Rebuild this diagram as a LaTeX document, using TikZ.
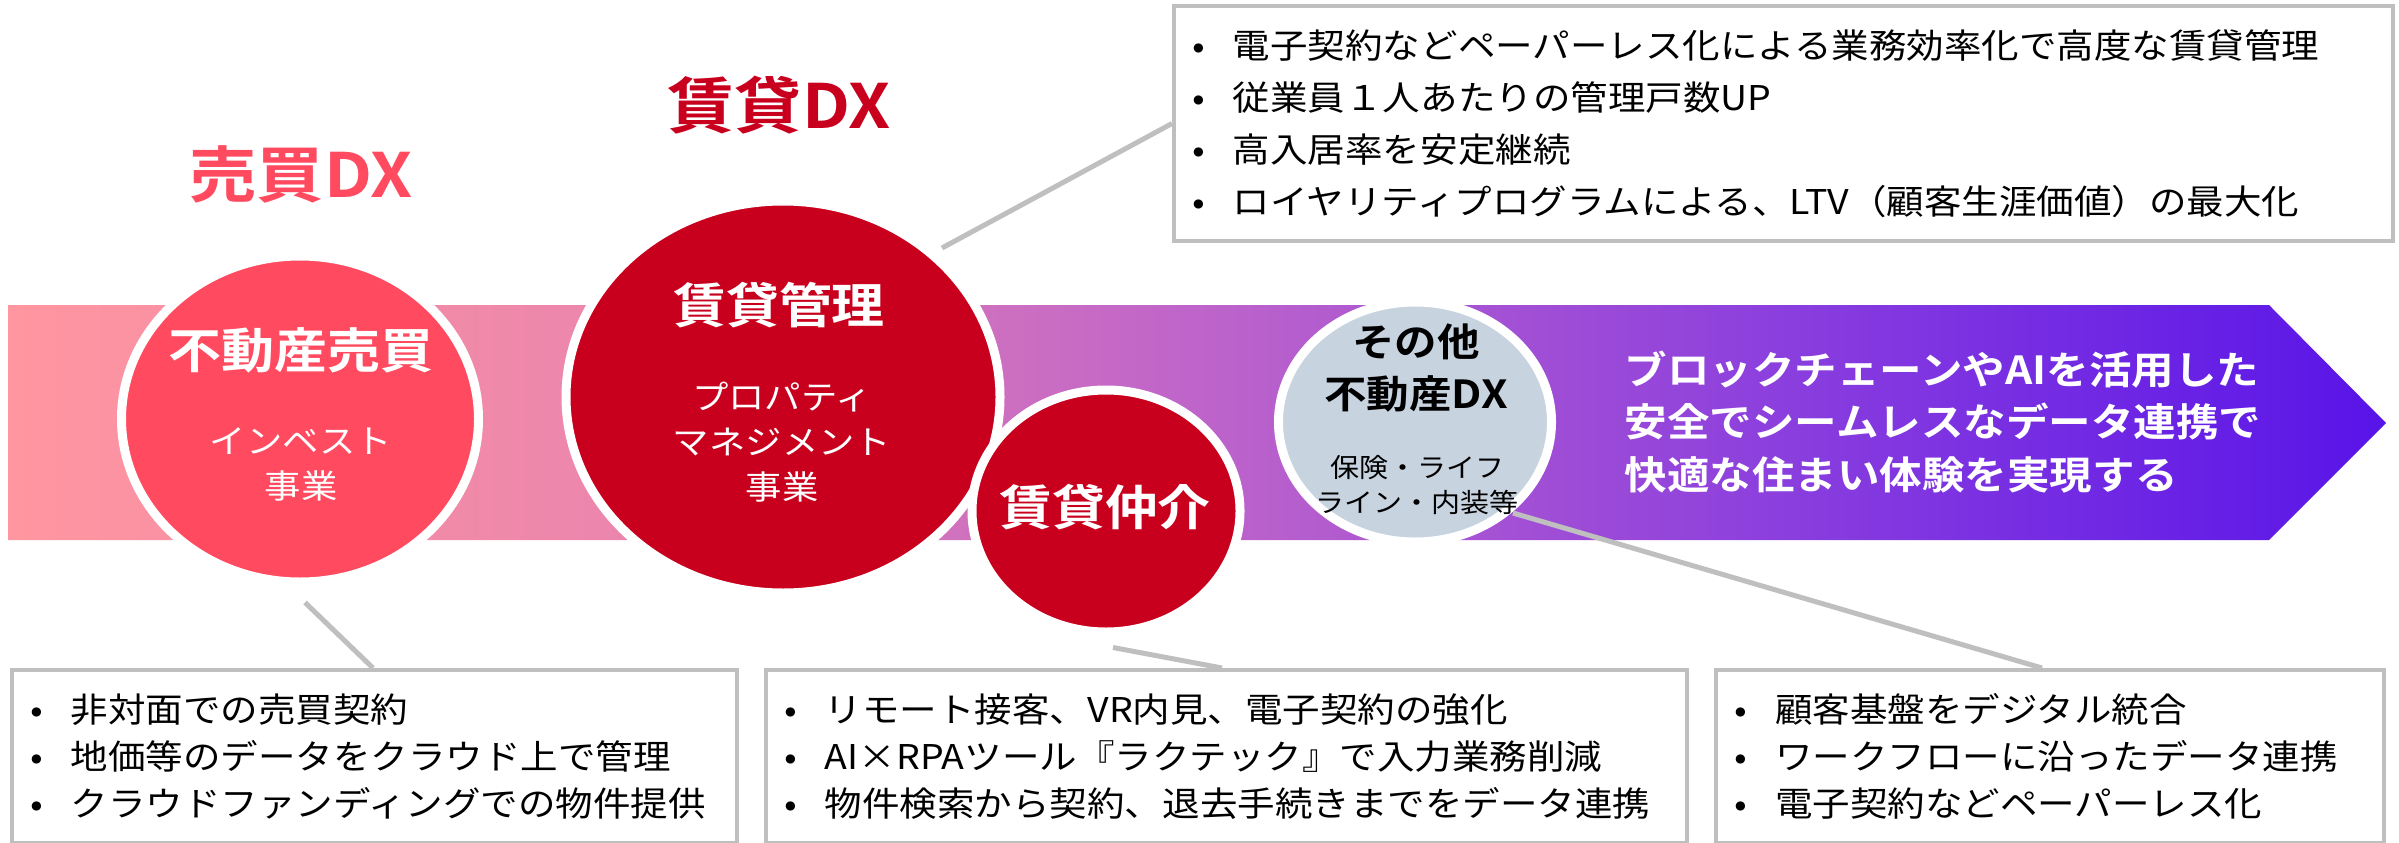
\documentclass[tikz,border=0pt]{standalone}
\usepackage{fontspec}
\setmainfont{Noto Sans CJK JP}[FakeStretch=1.1,BoldFont={Noto Sans CJK JP Bold}]
\usetikzlibrary{shapes.geometric,calc,backgrounds}
\definecolor{saleRed}{RGB}{255,74,96}
\definecolor{rentRed}{RGB}{200,0,30}
\definecolor{otherGray}{RGB}{200,211,224}
\definecolor{lineGray}{RGB}{191,191,191}
\definecolor{bandA}{RGB}{255,150,160}
\definecolor{bandB}{RGB}{236,134,172}
\definecolor{bandC}{RGB}{190,100,202}
\definecolor{bandD}{RGB}{138,62,222}
\definecolor{bandE}{RGB}{88,20,232}
\pgfdeclarehorizontalshading{bandshade}{100bp}{color(0bp)=(bandA); color(25bp)=(bandA);
    color(37.5bp)=(bandB); color(50bp)=(bandC); color(62.5bp)=(bandD); color(75bp)=(bandE); color(100bp)=(bandE)}
\newcommand{\fs}[2]{\fontsize{#1}{#2}\selectfont}
\newcommand{\itm}{\makebox[0.47cm][l]{\makebox[0.26cm]{•}}}
\tikzset{
    every node/.append style={align=center},
    bubble/.style={ellipse,draw=white,line width=0.09cm,inner sep=0pt},
    headtxt/.style={font=\bfseries\fs{13.7pt}{16pt},text=white,inner sep=0pt},
    subtxt/.style={font=\fs{9.4pt}{12.8pt},text=white,inner sep=0pt},
    dxlbl/.style={font=\bfseries\fs{17.4pt}{20pt},inner sep=0pt},
    vision/.style={anchor=west,align=left,text=white,font=\bfseries\fs{11pt}{15pt},inner sep=0pt},
    notebox/.style={rectangle,draw=lineGray,line width=0.04cm,anchor=north west,align=left,
        inner xsep=0.12cm,inner ysep=0pt,font=\fs{9.7pt}{13.4pt}},
    conn/.style={draw=lineGray,line width=0.05cm}
}

\begin{document}
\begin{tikzpicture}
    \useasboundingbox (0,0) rectangle (23.99,-8.43);
    % band behind the bubbles
    \path[shading=bandshade] (0.08,-3.05) -- (22.69,-3.05) -- (23.86,-4.23) -- (22.69,-5.40) -- (0.08,-5.40) -- cycle;

    \node[dxlbl,text=saleRed] (saleDX) at (3.01,-1.74) {売買DX};
    \node[dxlbl,text=rentRed] (rentDX) at (7.79,-1.05) {賃貸DX};

    \node[bubble,fill=saleRed,minimum width=3.57cm,minimum height=3.26cm]   (sale)  at ( 3.00,-4.19) {};
    \node[bubble,fill=rentRed,minimum width=4.34cm,minimum height=3.92cm]   (pm)    at ( 7.83,-3.97) {};
    \node[bubble,fill=rentRed,minimum width=2.68cm,minimum height=2.42cm]   (agent) at (11.06,-5.11) {};
    \node[bubble,fill=otherGray,minimum width=2.73cm,minimum height=2.40cm] (other) at (14.15,-4.22) {};

    \node[headtxt] (saleHead)  at ( 3.01,-3.50)  {不動産売買};
    \node[subtxt]  (saleSub)   at ( 3.01,-4.645) {インベスト\\事業};
    \node[headtxt] (pmHead)    at ( 7.79,-3.05)  {賃貸管理};
    \node[subtxt]  (pmSub)     at ( 7.82,-4.42)  {プロパティ\\マネジメント\\事業};
    \node[headtxt] (agentHead) at (11.05,-5.07)  {賃貸仲介};
    \node[headtxt,text=black,font=\bfseries\fs{11pt}{14.8pt}] (otherHead) at (14.16,-3.68) {その他\\不動産DX};
    \node[subtxt,text=black,font=\fs{7.5pt}{9.7pt}]          (otherSub)  at (14.17,-4.85) {保険・ライフ\\ライン・内装等};

    \node[vision] (goal) at (16.24,-4.22) {ブロックチェーンやAIを活用した\\安全でシームレスなデータ連携で\\快適な住まい体験を実現する};

    \node[notebox,minimum width=12.19cm,text width=11.95cm,minimum height=2.35cm,font=\fs{9.7pt}{14.8pt}] (mgmtBox) at (11.72,-0.04)
        {\itm 電子契約などペーパーレス化による業務効率化で高度な賃貸管理\\\itm 従業員１人あたりの管理戸数UP\\\itm 高入居率を安定継続\\\itm ロイヤリティプログラムによる、LTV（顧客生涯価値）の最大化};
    \node[notebox,minimum width=7.25cm,text width=7.01cm,minimum height=1.73cm] (saleBox) at (0.10,-6.68)
        {\itm 非対面での売買契約\\\itm 地価等のデータをクラウド上で管理\\\itm クラウドファンディングでの物件提供};
    \node[notebox,minimum width=9.21cm,text width=8.97cm,minimum height=1.73cm] (agentBox) at (7.64,-6.68)
        {\itm リモート接客、VR内見、電子契約の強化\\\itm AI×RPAツール『ラクテック』で入力業務削減\\\itm 物件検索から契約、退去手続きまでをデータ連携};
    \node[notebox,minimum width=6.68cm,text width=6.44cm,minimum height=1.73cm] (otherBox) at (17.14,-6.68)
        {\itm 顧客基盤をデジタル統合\\\itm ワークフローに沿ったデータ連携\\\itm 電子契約などペーパーレス化};

    \draw[conn] ($(sale.south)+(0.05,-0.16)$) -- ($(saleBox.north west)+(3.63,0)$);
    \draw[conn] ($(pm.center)+(1.59,1.49)$) -- (mgmtBox.west);
    \draw[conn] ($(agent.south)+(0.07,-0.11)$) -- ($(agentBox.north west)+(4.58,0)$);
    \draw[conn] ($(other.center)+(0.98,-0.91)$) -- ($(otherBox.north west)+(3.28,0)$);
\end{tikzpicture}
\end{document}
